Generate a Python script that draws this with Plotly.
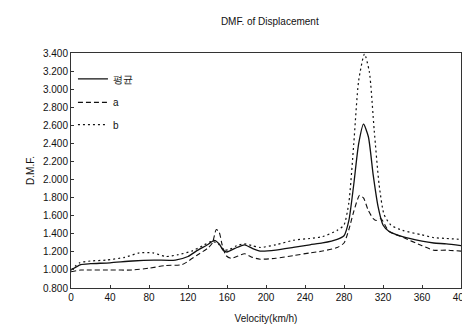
import plotly.graph_objects as go

# Velocity (km/h) and D.M.F. values
x_mean = [0, 10, 20, 40, 63, 85, 107, 120, 130, 140, 147, 152, 156, 160, 168, 178, 186, 194, 210, 228, 245, 258, 273, 280, 285, 290, 295, 300, 305, 310, 315, 320, 326, 340, 360, 372, 385, 400]
y_mean = [1.00, 1.06, 1.07, 1.08, 1.10, 1.11, 1.11, 1.15, 1.22, 1.28, 1.33, 1.29, 1.22, 1.20, 1.24, 1.28, 1.24, 1.21, 1.22, 1.25, 1.28, 1.30, 1.34, 1.38, 1.55, 1.95, 2.40, 2.62, 2.48, 2.05, 1.70, 1.50, 1.43, 1.37, 1.32, 1.30, 1.29, 1.27]

x_a = [0, 10, 16, 40, 63, 80, 97, 114, 130, 140, 145, 149, 152, 155, 159, 164, 170, 178, 186, 194, 210, 228, 245, 258, 273, 280, 285, 290, 296, 300, 305, 310, 313, 318, 326, 341, 360, 372, 385, 400]
y_a = [0.98, 1.00, 1.00, 1.00, 1.00, 1.02, 1.05, 1.06, 1.17, 1.24, 1.30, 1.45, 1.42, 1.28, 1.16, 1.13, 1.15, 1.18, 1.14, 1.12, 1.13, 1.16, 1.19, 1.21, 1.25, 1.30, 1.45, 1.65, 1.83, 1.80, 1.66, 1.57, 1.55, 1.57, 1.43, 1.36, 1.27, 1.22, 1.22, 1.21]

x_b = [0, 9, 20, 36, 55, 70, 84, 97, 110, 124, 135, 145, 152, 157, 163, 170, 178, 186, 194, 210, 228, 245, 258, 273, 280, 285, 290, 295, 301, 306, 311, 316, 321, 328, 340, 360, 372, 385, 400]
y_b = [1.00, 1.08, 1.10, 1.11, 1.14, 1.19, 1.19, 1.15, 1.17, 1.21, 1.27, 1.32, 1.28, 1.22, 1.23, 1.27, 1.29, 1.27, 1.25, 1.28, 1.33, 1.35, 1.37, 1.44, 1.50, 1.75, 2.40, 3.10, 3.40, 3.20, 2.55, 1.95, 1.62, 1.50, 1.44, 1.39, 1.36, 1.35, 1.34]

x_ticks = [0, 40, 80, 120, 160, 200, 240, 280, 320, 360, 400]
y_ticks = [0.8, 1.0, 1.2, 1.4, 1.6, 1.8, 2.0, 2.2, 2.4, 2.6, 2.8, 3.0, 3.2, 3.4]

FONT = "Liberation Sans, Arial, sans-serif"
INK = "#111111"

fig = go.Figure()
fig.add_trace(go.Scatter(x=x_mean, y=y_mean, mode="lines", name="평균",
                         line=dict(color=INK, width=1.3, dash="solid", shape="spline", smoothing=0.6),
                         legend="legend"))
fig.add_trace(go.Scatter(x=x_a, y=y_a, mode="lines", name="a",
                         line=dict(color=INK, width=1.1, dash="5px,3px", shape="spline", smoothing=0.6),
                         legend="legend2"))
fig.add_trace(go.Scatter(x=x_b, y=y_b, mode="lines", name="b",
                         line=dict(color=INK, width=1.2, dash="2px,3px", shape="spline", smoothing=0.6),
                         legend="legend3"))

leg_common = dict(x=0.005, xanchor="left", yanchor="middle", bgcolor="rgba(0,0,0,0)",
                  borderwidth=0, font=dict(family=FONT, size=10, color=INK), itemwidth=30)

fig.update_layout(
    width=470, height=330,
    margin=dict(l=63, r=8, t=45, b=50),
    paper_bgcolor="white", plot_bgcolor="white",
    font=dict(family=FONT, size=10, color=INK),
    title=dict(text="DMF. of Displacement", x=0.557, xanchor="center", y=0.958, yanchor="middle",
               font=dict(family=FONT, size=10, color=INK)),
    legend=dict(y=0.89, **leg_common),
    legend2=dict(y=0.79, **leg_common),
    legend3=dict(y=0.695, **leg_common),
    showlegend=True,
)

fig.update_xaxes(range=[0, 400], tickvals=x_ticks, ticktext=[str(v) for v in x_ticks],
                 showgrid=False, zeroline=False, showline=True, mirror=True,
                 linecolor="#333333", linewidth=1, ticks="inside", ticklen=3, tickcolor="#333333",
                 ticklabeloverflow="allow",
                 tickfont=dict(family=FONT, size=10, color=INK),
                 title=dict(text="Velocity(km/h)", standoff=12, font=dict(family=FONT, size=10, color=INK)))
fig.update_yaxes(range=[0.8, 3.41], tickvals=y_ticks, ticktext=[f"{v:.3f}" for v in y_ticks],
                 showgrid=False, zeroline=False, showline=True, mirror=True,
                 linecolor="#333333", linewidth=1, ticks="inside", ticklen=3, tickcolor="#333333",
                 tickfont=dict(family=FONT, size=10, color=INK),
                 title=dict(text="D.M.F.", standoff=6, font=dict(family=FONT, size=10, color=INK)))

fig.write_html("out.html")
